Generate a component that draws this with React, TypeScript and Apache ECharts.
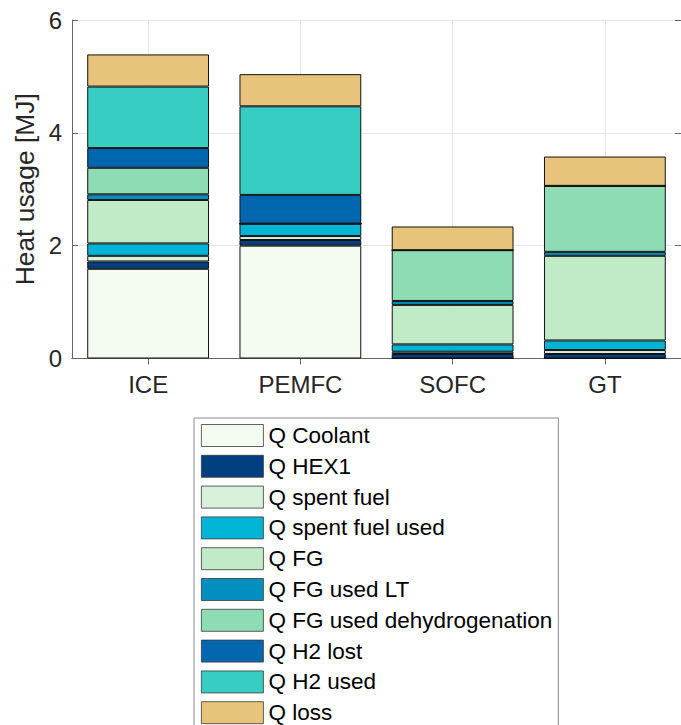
import React, { useEffect, useRef } from "react";
import * as echarts from "echarts";

const categories = ["ICE", "PEMFC", "SOFC", "GT"];
const seriesNames = [
  "Q Coolant",
  "Q HEX1",
  "Q spent fuel",
  "Q spent fuel used",
  "Q FG",
  "Q FG used LT",
  "Q FG used dehydrogenation",
  "Q H2 lost",
  "Q H2 used",
  "Q loss",
];
const qCoolant = [1.59, 2.0, 0, 0];
const qHex1 = [0.13, 0.1, 0.08, 0.08];
const qSpentFuel = [0.1, 0.07, 0.04, 0.07];
const qSpentFuelUsed = [0.22, 0.22, 0.13, 0.17];
const qFG = [0.77, 0, 0.7, 1.5];
const qFGUsedLT = [0.1, 0, 0.07, 0.07];
const qFGUsedDehyd = [0.47, 0, 0.9, 1.17];
const qH2Lost = [0.35, 0.51, 0, 0];
const qH2Used = [1.09, 1.57, 0, 0];
const qLoss = [0.57, 0.57, 0.42, 0.52];
const seriesValues = [
  qCoolant,
  qHex1,
  qSpentFuel,
  qSpentFuelUsed,
  qFG,
  qFGUsedLT,
  qFGUsedDehyd,
  qH2Lost,
  qH2Used,
  qLoss,
];
const colors = [
  "#f4fbf0",
  "#003f80",
  "#d8f1db",
  "#00b4d5",
  "#c1ebc6",
  "#028fc0",
  "#8ddcb3",
  "#0066ad",
  "#38cdc3",
  "#e8c37c",
];
const yMin = 0;
const yMax = 6;
const yStep = 2;
// helper axis for grid lines at category centres (odd indices)
const helperSlots = ["0", "1", "2", "3", "4", "5", "6", "7", "8"];

export default function App() {
  const ref = useRef<HTMLDivElement>(null);
  useEffect(() => {
    if (!ref.current) return;
    const chart = echarts.init(ref.current, null, { renderer: "svg" });
    const font = "Liberation Sans, Arial, Helvetica, sans-serif";
    const axisColor = "#666666";
    const gridColor = "#e5e5e5";
    chart.setOption({
      animation: false,
      textStyle: { fontFamily: font },
      grid: { left: 72, right: -2, top: 20, bottom: 366.5, containLabel: false },
      xAxis: [
        {
          type: "category",
          data: categories,
          position: "bottom",
          axisLine: { show: true, lineStyle: { color: axisColor, width: 1 } },
          axisTick: { show: true, alignWithLabel: true, inside: true, length: 6, lineStyle: { color: axisColor } },
          axisLabel: { fontSize: 24, color: "#262626", margin: 14, fontFamily: font },
          splitLine: { show: false },
        },
        {
          type: "category",
          data: helperSlots,
          boundaryGap: false,
          position: "top",
          axisLine: { show: true, lineStyle: { color: axisColor, width: 1 } },
          axisTick: {
            show: true,
            inside: true,
            length: 6,
            interval: (i: number) => i % 2 === 1,
            lineStyle: { color: axisColor },
          },
          axisLabel: { show: false },
          splitLine: {
            show: true,
            interval: (i: number) => i % 2 === 1,
            lineStyle: { color: gridColor, width: 1 },
          },
        },
      ],
      yAxis: [
        {
          type: "value",
          min: yMin,
          max: yMax,
          interval: yStep,
          position: "left",
          name: "Heat usage [MJ]",
          nameLocation: "middle",
          nameGap: 30,
          nameTextStyle: { fontSize: 26.4, color: "#262626", fontFamily: font },
          axisLine: { show: true, lineStyle: { color: axisColor, width: 1 } },
          axisTick: { show: true, inside: true, length: 6, lineStyle: { color: axisColor } },
          axisLabel: { fontSize: 24, color: "#262626", margin: 10, fontFamily: font },
          splitLine: { show: true, lineStyle: { color: gridColor, width: 1 } },
        },
        {
          type: "value",
          min: yMin,
          max: yMax,
          interval: yStep,
          position: "right",
          axisLine: { show: true, lineStyle: { color: axisColor, width: 1 } },
          axisTick: { show: true, inside: true, length: 6, lineStyle: { color: axisColor } },
          axisLabel: { show: false },
          splitLine: { show: false },
        },
      ],
      legend: {
        orient: "vertical",
        left: 194,
        top: 418,
        height: 340,
        padding: [6, 6, 6, 7],
        itemWidth: 62,
        itemHeight: 22,
        itemGap: 7.8,
        icon: "rect",
        backgroundColor: "#ffffff",
        borderColor: "#8c8c8c",
        borderWidth: 1,
        borderRadius: 0,
        selectedMode: false,
        data: seriesNames,
        itemStyle: { borderColor: "#3a3a3a", borderWidth: 0.8 },
        textStyle: { fontSize: 22.5, color: "#000000", fontFamily: font },
      },
      series: seriesNames.map((name, k) => ({
        name,
        type: "bar",
        stack: "heat",
        xAxisIndex: 0,
        yAxisIndex: 0,
        barWidth: "80%",
        data: seriesValues[k],
        silent: true,
        itemStyle: { color: colors[k], borderColor: "#111111", borderWidth: 1 },
      })),
    });
    return () => chart.dispose();
  }, []);
  return (
    <div
      ref={ref}
      style={{ position: "absolute", left: 0, top: 0, width: 681, height: 725 }}
    />
  );
}
